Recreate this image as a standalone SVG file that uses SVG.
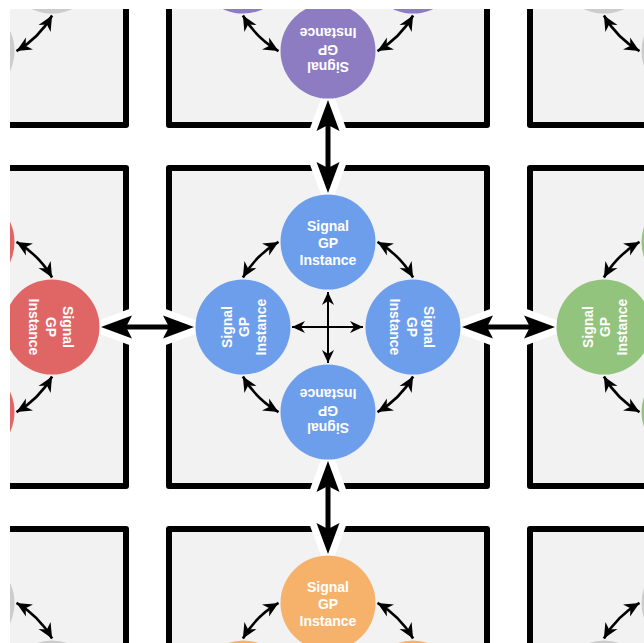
<svg xmlns="http://www.w3.org/2000/svg" width="644" height="643" viewBox="0 0 644 643">
<style>
.box{fill:#f2f2f2;stroke:#000;stroke-width:6;stroke-linejoin:round}
.blue{fill:#6d9eeb}.red{fill:#e06666}.green{fill:#93c47d}.orange{fill:#f6b26b}.purple{fill:#8e7cc3}.gray{fill:#cccccc}
.lbl{font-family:"Liberation Sans",Arial,sans-serif;font-weight:bold;font-size:14px;fill:#fff;text-anchor:middle}
.thin{fill:none;stroke:#000;stroke-width:2;marker-start:url(#sa);marker-end:url(#sa)}
.arc{fill:none;stroke:#000;stroke-width:2.6;marker-start:url(#aa);marker-end:url(#aa)}
.halo{fill:none;stroke:#fff;stroke-width:5;marker-start:url(#bh);marker-end:url(#bh)}
.thick{fill:none;stroke:#000;stroke-width:5;marker-start:url(#ba);marker-end:url(#ba)}
</style>
<defs>
<clipPath id="clip"><rect x="10" y="9" width="634" height="634"/></clipPath>
<marker id="sa" markerUnits="userSpaceOnUse" orient="auto-start-reverse" refX="0" refY="0" markerWidth="1" markerHeight="1" overflow="visible">
<path d="M0,0 L-13,-6 L-9,0 L-13,6 Z" fill="#000"/>
</marker>
<marker id="aa" markerUnits="userSpaceOnUse" orient="auto-start-reverse" refX="0" refY="0" markerWidth="1" markerHeight="1" overflow="visible">
<path d="M0,0 L-15,-7 L-10.5,0 L-15,7 Z" fill="#000"/>
</marker>
<marker id="ba" markerUnits="userSpaceOnUse" orient="auto-start-reverse" refX="-20" refY="0" markerWidth="1" markerHeight="1" overflow="visible">
<path d="M0,0 L-31,-11.5 L-25,0 L-31,11.5 Z" fill="#000"/>
</marker>
<marker id="bh" markerUnits="userSpaceOnUse" orient="auto-start-reverse" refX="-20" refY="0" markerWidth="1" markerHeight="1" overflow="visible">
<path d="M0,0 L-31,-11.5 L-25,0 L-31,11.5 Z" fill="#fff" stroke="#fff" stroke-width="14" stroke-linejoin="miter" stroke-miterlimit="10"/>
</marker>
</defs>
<g clip-path="url(#clip)">
<g id="boxes">
<rect id="box-tl" class="box" x="-192" y="-193" width="318" height="318"/>
<rect id="box-t" class="box" x="169" y="-193" width="318" height="318"/>
<rect id="box-tr" class="box" x="530" y="-193" width="318" height="318"/>
<rect id="box-l" class="box" x="-192" y="168" width="318" height="318"/>
<rect id="box-c" class="box" x="169" y="168" width="318" height="318"/>
<rect id="box-r" class="box" x="530" y="168" width="318" height="318"/>
<rect id="box-bl" class="box" x="-192" y="529" width="318" height="318"/>
<rect id="box-b" class="box" x="169" y="529" width="318" height="318"/>
<rect id="box-br" class="box" x="530" y="529" width="318" height="318"/>
</g>
<g id="connectors">
<path class="arc" d="M52.1,15.5 A98.5,98.5 0 0 1 16.5,51.1"/>
<path class="arc" d="M413.1,15.5 A98.5,98.5 0 0 1 377.5,51.1"/>
<path class="arc" d="M278.5,51.1 A98.5,98.5 0 0 1 242.9,15.5"/>
<path class="arc" d="M639.5,51.1 A98.5,98.5 0 0 1 603.9,15.5"/>
<path class="arc" d="M16.5,241.9 A98.5,98.5 0 0 1 52.1,277.5"/>
<path class="arc" d="M52.1,376.5 A98.5,98.5 0 0 1 16.5,412.1"/>
<path class="arc" d="M413.1,376.5 A98.5,98.5 0 0 1 377.5,412.1"/>
<path class="arc" d="M278.5,412.1 A98.5,98.5 0 0 1 242.9,376.5"/>
<path class="arc" d="M242.9,277.5 A98.5,98.5 0 0 1 278.5,241.9"/>
<path class="arc" d="M377.5,241.9 A98.5,98.5 0 0 1 413.1,277.5"/>
<path class="arc" d="M639.5,412.1 A98.5,98.5 0 0 1 603.9,376.5"/>
<path class="arc" d="M603.9,277.5 A98.5,98.5 0 0 1 639.5,241.9"/>
<path class="arc" d="M16.5,602.9 A98.5,98.5 0 0 1 52.1,638.5"/>
<path class="arc" d="M242.9,638.5 A98.5,98.5 0 0 1 278.5,602.9"/>
<path class="arc" d="M377.5,602.9 A98.5,98.5 0 0 1 413.1,638.5"/>
<path class="arc" d="M603.9,638.5 A98.5,98.5 0 0 1 639.5,602.9"/>
<path class="thin" d="M292,327 L363,327"/>
<path class="thin" d="M328,292 L328,363"/>
<path class="halo" d="M121,327 L174,327"/>
<path class="halo" d="M482,327 L535,327"/>
<path class="halo" d="M328,120 L328,173"/>
<path class="halo" d="M328,481 L328,534"/>
<path class="thick" d="M121,327 L174,327"/>
<path class="thick" d="M482,327 L535,327"/>
<path class="thick" d="M328,120 L328,173"/>
<path class="thick" d="M328,481 L328,534"/>
</g>
<g id="n-tl-r" transform="translate(52,-34)"><circle class="gray" r="47.5"/></g>
<g id="n-tl-b" transform="translate(-33,51)"><circle class="gray" r="47.5"/></g>
<g id="n-t-l" transform="translate(243,-34)"><circle class="purple" r="47.5"/></g>
<g id="n-t-r" transform="translate(413,-34)"><circle class="purple" r="47.5"/></g>
<g id="n-t-b" transform="translate(328,51)"><circle class="purple" r="47.5"/><text class="lbl" transform="rotate(180)"><tspan x="0" y="-11">Signal</tspan><tspan x="0" y="6">GP</tspan><tspan x="0" y="23">Instance</tspan></text></g>
<g id="n-tr-l" transform="translate(604,-34)"><circle class="gray" r="47.5"/></g>
<g id="n-tr-b" transform="translate(689,51)"><circle class="gray" r="47.5"/></g>
<g id="n-l-t" transform="translate(-33,242)"><circle class="red" r="47.5"/></g>
<g id="n-l-b" transform="translate(-33,412)"><circle class="red" r="47.5"/></g>
<g id="n-l-r" transform="translate(52,327)"><circle class="red" r="47.5"/><text class="lbl" transform="rotate(90)"><tspan x="0" y="-11">Signal</tspan><tspan x="0" y="6">GP</tspan><tspan x="0" y="23">Instance</tspan></text></g>
<g id="n-c-t" transform="translate(328,242)"><circle class="blue" r="47.5"/><text class="lbl"><tspan x="0" y="-11">Signal</tspan><tspan x="0" y="6">GP</tspan><tspan x="0" y="23">Instance</tspan></text></g>
<g id="n-c-l" transform="translate(243,327)"><circle class="blue" r="47.5"/><text class="lbl" transform="rotate(-90)"><tspan x="0" y="-11">Signal</tspan><tspan x="0" y="6">GP</tspan><tspan x="0" y="23">Instance</tspan></text></g>
<g id="n-c-r" transform="translate(413,327)"><circle class="blue" r="47.5"/><text class="lbl" transform="rotate(90)"><tspan x="0" y="-11">Signal</tspan><tspan x="0" y="6">GP</tspan><tspan x="0" y="23">Instance</tspan></text></g>
<g id="n-c-b" transform="translate(328,412)"><circle class="blue" r="47.5"/><text class="lbl" transform="rotate(180)"><tspan x="0" y="-11">Signal</tspan><tspan x="0" y="6">GP</tspan><tspan x="0" y="23">Instance</tspan></text></g>
<g id="n-r-t" transform="translate(689,242)"><circle class="green" r="47.5"/></g>
<g id="n-r-b" transform="translate(689,412)"><circle class="green" r="47.5"/></g>
<g id="n-r-l" transform="translate(604,327)"><circle class="green" r="47.5"/><text class="lbl" transform="rotate(-90)"><tspan x="0" y="-11">Signal</tspan><tspan x="0" y="6">GP</tspan><tspan x="0" y="23">Instance</tspan></text></g>
<g id="n-bl-t" transform="translate(-33,603)"><circle class="gray" r="47.5"/></g>
<g id="n-bl-r" transform="translate(52,688)"><circle class="gray" r="47.5"/></g>
<g id="n-b-t" transform="translate(328,603)"><circle class="orange" r="47.5"/><text class="lbl"><tspan x="0" y="-11">Signal</tspan><tspan x="0" y="6">GP</tspan><tspan x="0" y="23">Instance</tspan></text></g>
<g id="n-b-l" transform="translate(243,688)"><circle class="orange" r="47.5"/></g>
<g id="n-b-r" transform="translate(413,688)"><circle class="orange" r="47.5"/></g>
<g id="n-br-t" transform="translate(689,603)"><circle class="gray" r="47.5"/></g>
<g id="n-br-l" transform="translate(604,688)"><circle class="gray" r="47.5"/></g>
</g>
</svg>
